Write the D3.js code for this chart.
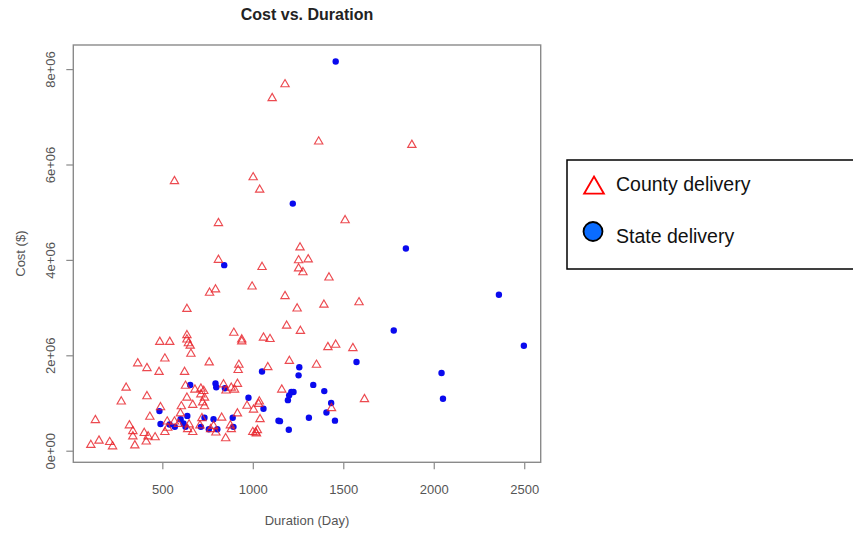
<!DOCTYPE html>
<html>
<head>
<meta charset="utf-8">
<script src="https://cdn.jsdelivr.net/npm/d3@7"></script>
<style>
  body { margin: 0; background: #fff; }
  svg { display: block; font-family: "Liberation Sans", Arial, sans-serif; }
</style>
</head>
<body>
<main></main>
<script>
// county delivery projects: duration (days) and cost (millions of $)
const countyDays = [1178, 1107, 1364, 1879, 567, 1002, 1038, 810, 1510, 1261, 810, 1253, 1306, 1051, 1253, 1277,
  1421, 996, 794, 761, 1178, 1587, 1393, 636, 1245, 1187, 1263, 895, 636, 636, 1059, 1095, 939, 939, 486, 541,
  644, 654, 1415, 1458, 1553, 658, 514, 1202, 759, 364, 923, 1352, 415, 1083, 919, 482, 623, 628, 300, 915,
  1160, 838, 713, 729, 852, 881, 899, 680, 713, 733, 415, 636, 273, 1617, 723, 1032, 968, 668, 605, 733, 490,
  1435, 1004, 915, 600, 431, 130, 1040, 719, 828, 318, 527, 567, 589, 648, 708, 783, 876, 337, 400, 530, 640,
  767, 881, 1000, 1015, 668, 796, 337, 421, 460, 150, 411, 850, 348, 105, 209, 225, 514, 1036, 1025, 1020];
const countyCost = [7.68, 7.39, 6.48, 6.41, 5.65, 5.73, 5.47, 4.77, 4.83, 4.26, 4.00, 3.99, 4.01, 3.85, 3.82, 3.74,
  3.63, 3.44, 3.38, 3.31, 3.24, 3.11, 3.06, 2.97, 2.98, 2.62, 2.51, 2.47, 2.42, 2.33, 2.37, 2.34, 2.33, 2.29, 2.28, 2.28,
  2.25, 2.20, 2.17, 2.22, 2.15, 2.03, 1.93, 1.88, 1.85, 1.83, 1.80, 1.80, 1.73, 1.75, 1.69, 1.65, 1.65, 1.36, 1.32, 1.40,
  1.28, 1.39, 1.30, 1.25, 1.26, 1.32, 1.28, 1.28, 1.18, 1.11, 1.14, 1.11, 1.03, 1.08, 1.01, 0.98, 0.94, 0.96, 0.93, 0.93, 0.91,
  0.89, 0.86, 0.78, 0.78, 0.71, 0.64, 0.66, 0.68, 0.69, 0.53, 0.61, 0.61, 0.56, 0.55, 0.53, 0.52, 0.53, 0.41, 0.37, 0.48, 0.45,
  0.45, 0.45, 0.39, 0.38, 0.39, 0.38, 0.30, 0.30, 0.28, 0.21, 0.19, 0.26, 0.11, 0.12, 0.18, 0.09, 0.39, 1.03, 0.43, 0.36];

// state delivery projects
const stateDays = [1458, 1221, 1846, 842, 2360, 1779, 2498, 1573, 1257, 1253, 2043, 1051, 794, 798, 654, 846,
  1334, 1395, 976, 1213, 1225, 1201, 1194, 2051, 1433, 1059, 1407, 484, 1310, 1142, 1150, 1454, 1199, 783, 889,
  638, 601, 733, 490, 540, 569, 617, 628, 713, 757, 804, 893];
const stateCost = [8.16, 5.18, 4.24, 3.89, 3.27, 2.52, 2.20, 1.86, 1.75, 1.58, 1.63, 1.66, 1.41, 1.33, 1.38, 1.31,
  1.38, 1.25, 1.11, 1.23, 1.23, 1.16, 1.06, 1.09, 1.00, 0.88, 0.80, 0.83, 0.69, 0.63, 0.62, 0.63, 0.44, 0.66, 0.69,
  0.73, 0.66, 0.69, 0.56, 0.55, 0.50, 0.57, 0.50, 0.50, 0.45, 0.45, 0.50];

const xTicks = [500, 1000, 1500, 2000, 2500];
const yTicks = [0, 2e6, 4e6, 6e6, 8e6];
const legendLabels = ["County delivery", "State delivery"];

const county = countyDays.map((d, i) => ({ day: d, cost: countyCost[i] * 1e6 }));
const state = stateDays.map((d, i) => ({ day: d, cost: stateCost[i] * 1e6 }));

const W = 853, H = 533;
const box = { left: 73.3, right: 540.7, top: 45, bottom: 462.3 };

const svg = d3.select("main").append("svg").attr("width", W).attr("height", H);

// R pads the data range by 4% on each side
const xScale = d3.scaleLinear().domain([8, 2591]).range([box.left, box.right]);
const yScale = d3.scaleLinear().domain([-0.243e6, 8.505e6]).range([box.bottom, box.top]);

const axisColor = "#8a8a8a";
const textColor = "#555";

// x axis
const xAxis = d3.axisBottom(xScale).tickValues(xTicks).tickSize(7).tickFormat(d3.format("d"));
const gx = svg.append("g").attr("transform", `translate(0,${box.bottom})`).call(xAxis);
gx.select(".domain").remove();
gx.selectAll("line").attr("stroke", axisColor).attr("stroke-width", 1.2);
gx.selectAll("text")
  .attr("y", 27).attr("dy", "0.35em")
  .attr("fill", textColor).style("font-size", "13px");

// y axis with R style rotated labels
const yAxis = d3.axisLeft(yScale).tickValues(yTicks).tickSize(7)
  .tickFormat((d) => (d === 0 ? "0e+00" : d / 1e6 + "e+06"));
const gy = svg.append("g").attr("transform", `translate(${box.left},0)`).call(yAxis);
gy.select(".domain").remove();
gy.selectAll("line").attr("stroke", axisColor).attr("stroke-width", 1.2);
gy.selectAll("text")
  .attr("transform", "rotate(-90)")
  .attr("x", 0).attr("y", -23).attr("dy", "0.35em")
  .attr("text-anchor", "middle")
  .attr("fill", textColor).style("font-size", "13px");

// plot frame
svg.append("rect")
  .attr("x", box.left).attr("y", box.top)
  .attr("width", box.right - box.left).attr("height", box.bottom - box.top)
  .attr("fill", "none").attr("stroke", axisColor).attr("stroke-width", 1.4);

// titles
const midX = (box.left + box.right) / 2;
svg.append("text")
  .attr("x", midX).attr("y", 19.5)
  .attr("text-anchor", "middle")
  .style("font-size", "16px").style("font-weight", "bold").attr("fill", "#222")
  .text("Cost vs. Duration");
svg.append("text")
  .attr("x", midX).attr("y", 520).attr("dy", "0.35em")
  .attr("text-anchor", "middle")
  .style("font-size", "13px").attr("fill", textColor)
  .text("Duration (Day)");
svg.append("text")
  .attr("transform", `translate(20,${(box.top + box.bottom) / 2}) rotate(-90)`)
  .attr("dy", "0.35em")
  .attr("text-anchor", "middle")
  .style("font-size", "13px").attr("fill", textColor)
  .text("Cost ($)");

// state delivery dots
svg.append("g")
  .selectAll("circle")
  .data(state)
  .enter()
  .append("circle")
  .attr("cx", (d) => xScale(d.day))
  .attr("cy", (d) => yScale(d.cost))
  .attr("r", 3.2)
  .attr("fill", "#0a0aee");

// county delivery triangles
const tri = d3.symbol().type(d3.symbolTriangle).size(30);
svg.append("g")
  .selectAll("path")
  .data(county)
  .enter()
  .append("path")
  .attr("d", tri)
  .attr("transform", (d) => `translate(${xScale(d.day)},${yScale(d.cost)})`)
  .attr("fill", "none")
  .attr("stroke", "#e8222a")
  .attr("stroke-width", 1.15)
  .attr("opacity", 0.82);

// legend
const legend = svg.append("g").attr("id", "legend");
legend.append("rect")
  .attr("x", 567).attr("y", 160).attr("width", 300).attr("height", 109)
  .attr("fill", "#fff").attr("stroke", "#000").attr("stroke-width", 1.5);
legend.append("path")
  .attr("d", d3.symbol().type(d3.symbolTriangle).size(170))
  .attr("transform", "translate(594,188)")
  .attr("fill", "#fff").attr("stroke", "#f00").attr("stroke-width", 1.8);
legend.append("circle")
  .attr("cx", 593).attr("cy", 231.5).attr("r", 9.5)
  .attr("fill", "#0a6cff").attr("stroke", "#000").attr("stroke-width", 1.8);
legend.selectAll(".legend-label")
  .data(legendLabels)
  .enter()
  .append("text")
  .attr("class", "legend-label")
  .attr("x", 616)
  .attr("y", (d, i) => 191 + i * 52)
  .style("font-size", "19.5px")
  .attr("fill", "#111")
  .text((d) => d);
</script>
</body>
</html>
